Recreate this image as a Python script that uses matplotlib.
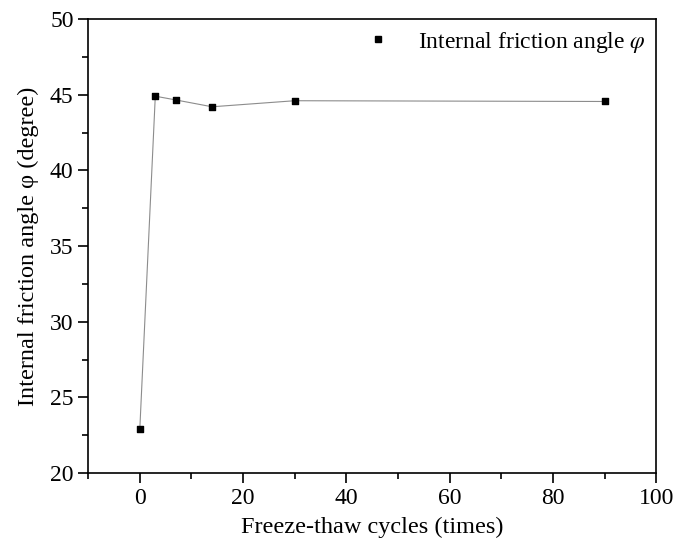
import matplotlib
matplotlib.use("Agg")
import matplotlib.pyplot as plt
from matplotlib.lines import Line2D
from matplotlib.ticker import MultipleLocator

# data
cycles = [0, 3, 7, 14, 30, 90]
friction_angle = [22.9, 44.9, 44.65, 44.2, 44.6, 44.55]

plt.rcParams['font.family'] = ['Liberation Serif', 'DejaVu Serif']
plt.rcParams['mathtext.fontset'] = 'stix'

fig = plt.figure(figsize=(6.73, 5.42), dpi=100)
ax = fig.add_axes([0.131, 0.127, 0.844, 0.838])

ax.plot(cycles, friction_angle, color='#8c8c8c', linewidth=0.8, zorder=1)
ax.scatter(cycles, friction_angle, marker='s', s=22, color='black', zorder=2)

ax.set_xlim(-10, 100)
ax.set_ylim(20, 50)
ax.xaxis.set_major_locator(MultipleLocator(20))
ax.xaxis.set_minor_locator(MultipleLocator(10))
ax.yaxis.set_major_locator(MultipleLocator(5))
ax.yaxis.set_minor_locator(MultipleLocator(2.5))
ax.tick_params(which='major', direction='out', length=7, width=1.2, labelsize=17)
ax.tick_params(which='minor', direction='out', length=4, width=1.2)
for spine in ax.spines.values():
    spine.set_linewidth(1.2)

ax.set_xlabel('Freeze-thaw cycles (times)', fontsize=17.5, labelpad=6)
ax.set_ylabel('Internal friction angle φ (degree)', fontsize=17.5, labelpad=8)

handle = Line2D([], [], linestyle='none', marker='s', markersize=4.5, color='black')
ax.legend([handle], [r'Internal friction angle $\varphi$'], loc='upper right',
          frameon=False, fontsize=17, handlelength=1.0, handletextpad=1.2,
          borderaxespad=0.05)

fig.savefig('out.png', dpi=100)
